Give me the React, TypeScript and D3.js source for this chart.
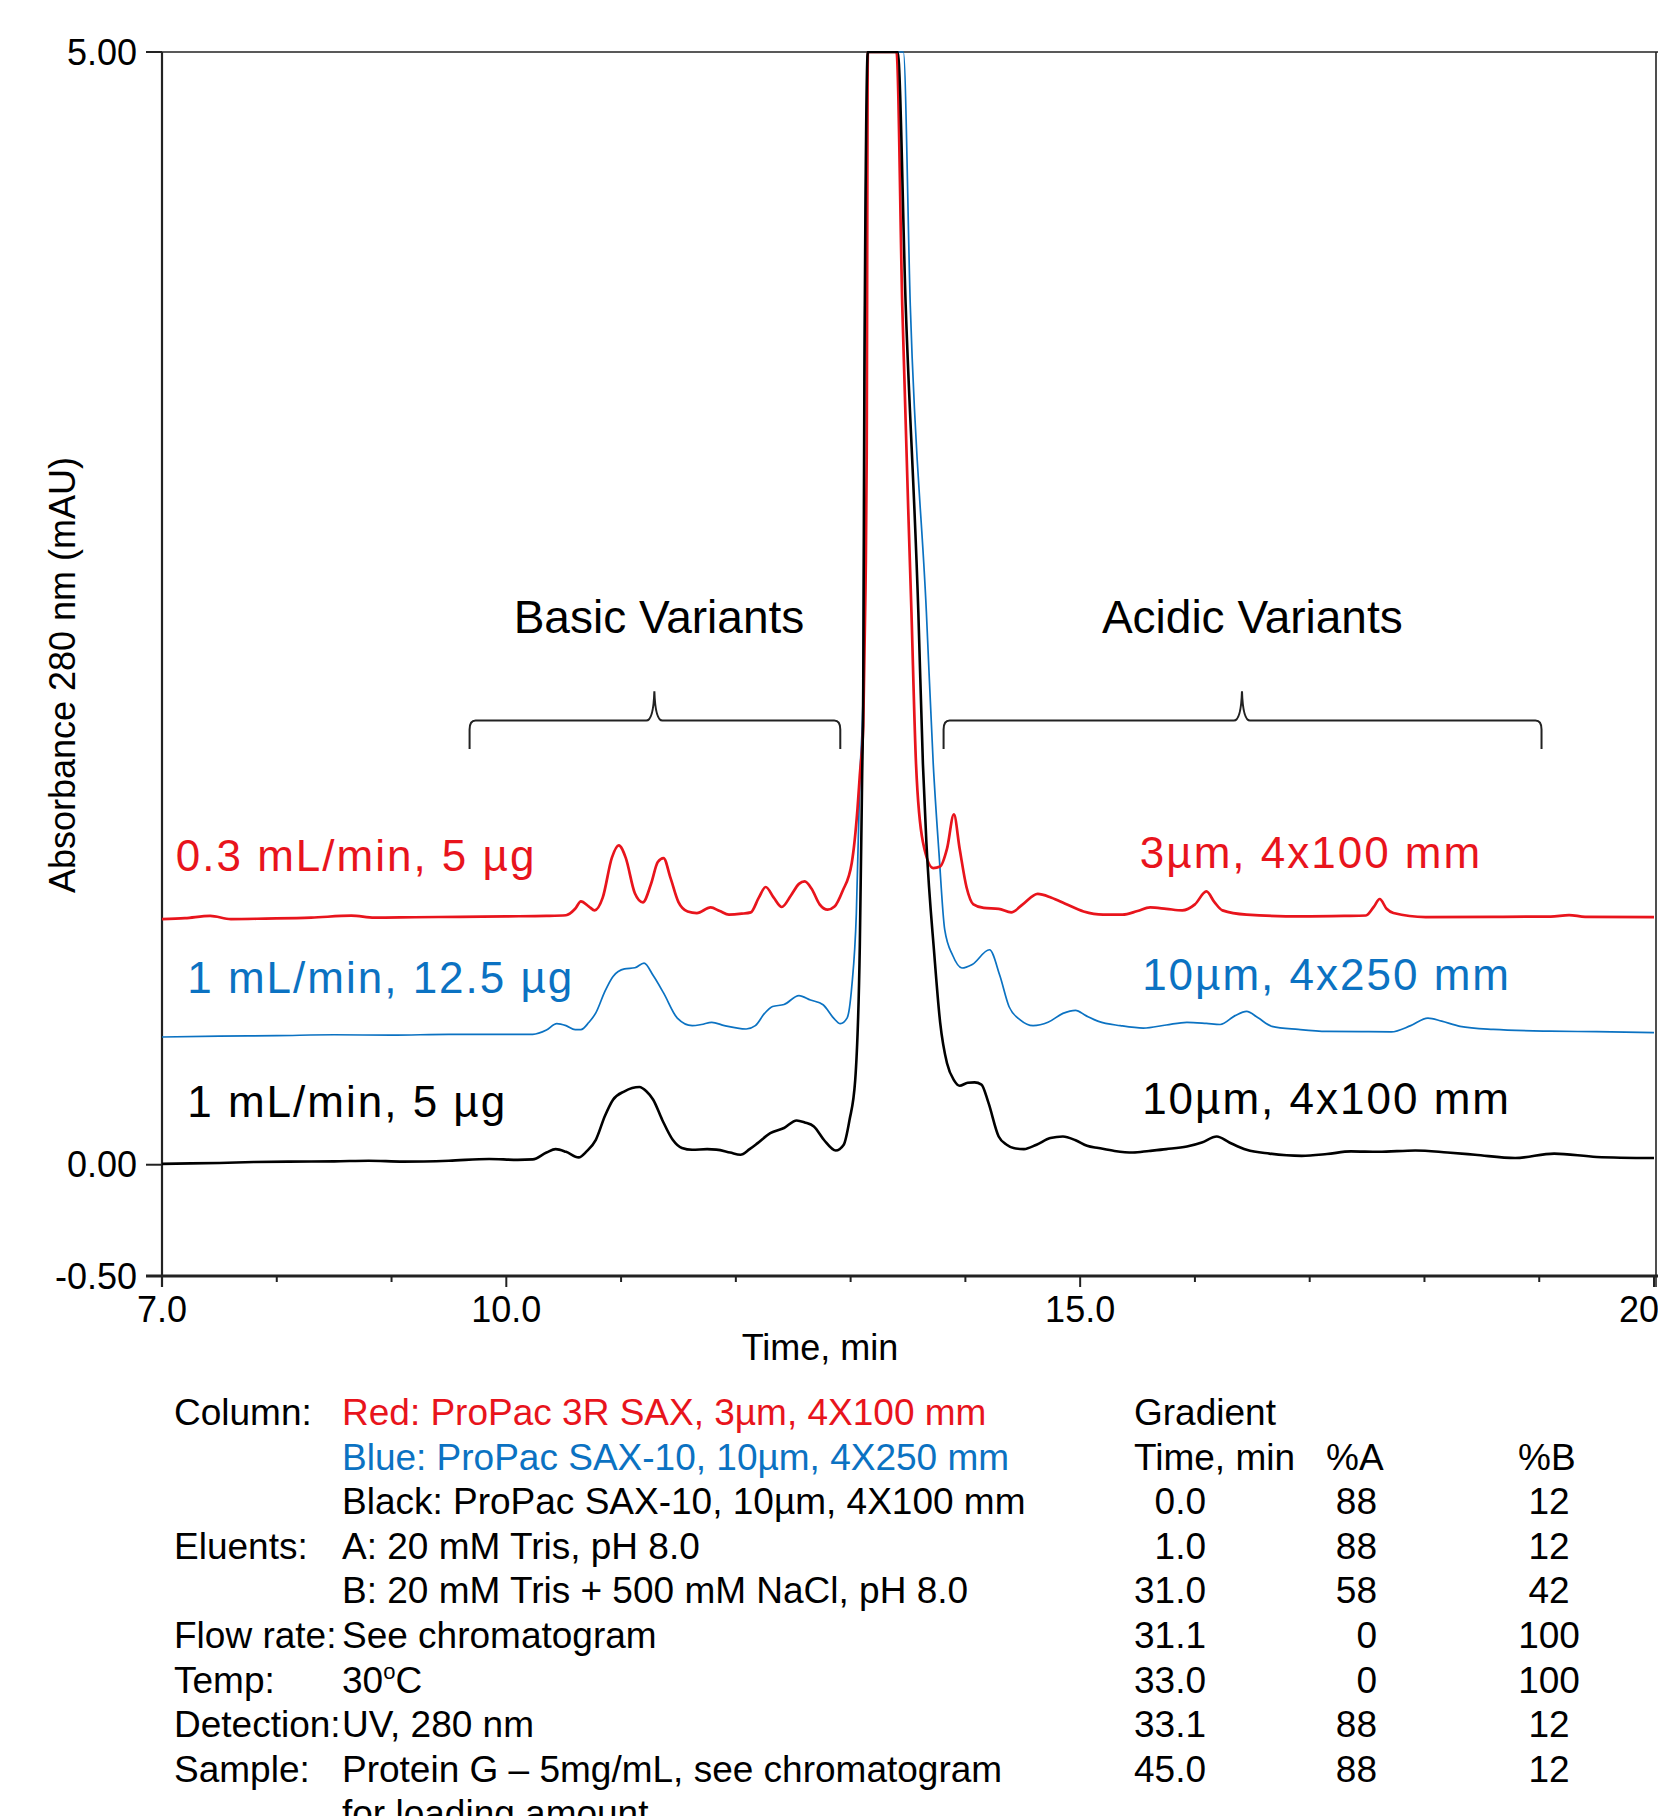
import React from "react";
import * as d3 from "d3";

// chromatogram traces, [time (min), absorbance (mAU)]
const RED_TRACE: [number, number][] = [
  [7.0, 1.104], [7.2, 1.108], [7.42, 1.118], [7.6, 1.104], [7.9, 1.106], [8.3, 1.11],
  [8.65, 1.119], [8.85, 1.11], [9.2, 1.112], [9.6, 1.114], [10.0, 1.116], [10.35, 1.118],
  [10.52, 1.121], [10.6, 1.15], [10.65, 1.183], [10.72, 1.16], [10.77, 1.143], [10.84, 1.2],
  [10.92, 1.38], [10.98, 1.435], [11.04, 1.38], [11.12, 1.22], [11.19, 1.179], [11.26, 1.26],
  [11.32, 1.36], [11.37, 1.378], [11.43, 1.29], [11.5, 1.18], [11.58, 1.138], [11.66, 1.131],
  [11.78, 1.156], [11.86, 1.14], [11.94, 1.124], [12.05, 1.128], [12.13, 1.134], [12.2, 1.2],
  [12.26, 1.248], [12.33, 1.2], [12.4, 1.158], [12.48, 1.21], [12.55, 1.262], [12.6, 1.273],
  [12.66, 1.24], [12.73, 1.17], [12.8, 1.146], [12.86, 1.16], [12.93, 1.23], [13.01, 1.356],
  [13.06, 1.6], [13.08, 1.75], [13.11, 1.97], [13.13, 2.6], [13.14, 3.17], [13.15, 5.0],
  [13.4, 5.0], [13.45, 3.86], [13.53, 2.485], [13.57, 1.8], [13.63, 1.45], [13.72, 1.333],
  [13.78, 1.34], [13.84, 1.42], [13.9, 1.574], [13.95, 1.42], [14.01, 1.247], [14.07, 1.17],
  [14.16, 1.154], [14.29, 1.15], [14.4, 1.134], [14.5, 1.17], [14.63, 1.217], [14.75, 1.2],
  [14.87, 1.173], [15.03, 1.138], [15.2, 1.124], [15.37, 1.124], [15.5, 1.14], [15.61, 1.156],
  [15.75, 1.15], [15.89, 1.143], [16.0, 1.17], [16.1, 1.228], [16.17, 1.18], [16.24, 1.143],
  [16.45, 1.124], [16.93, 1.116], [17.3, 1.118], [17.49, 1.12], [17.56, 1.16], [17.61, 1.194],
  [17.67, 1.15], [17.73, 1.131], [18.01, 1.113], [18.6, 1.114], [19.1, 1.115], [19.26, 1.122],
  [19.4, 1.114], [20.0, 1.113],
];

const BLUE_TRACE: [number, number][] = [
  [7.0, 0.574], [7.5, 0.578], [8.0, 0.58], [8.5, 0.584], [9.0, 0.582], [9.5, 0.586],
  [10.0, 0.586], [10.23, 0.586], [10.35, 0.605], [10.44, 0.634], [10.52, 0.625], [10.6, 0.607],
  [10.65, 0.607], [10.72, 0.64], [10.78, 0.682], [10.86, 0.78], [10.93, 0.846], [11.03, 0.88],
  [11.12, 0.885], [11.2, 0.906], [11.28, 0.85], [11.37, 0.772], [11.49, 0.659], [11.62, 0.625],
  [11.7, 0.63], [11.79, 0.64], [11.9, 0.625], [12.09, 0.61], [12.17, 0.625], [12.25, 0.68],
  [12.32, 0.711], [12.42, 0.72], [12.55, 0.76], [12.65, 0.74], [12.76, 0.719], [12.85, 0.66],
  [12.91, 0.634], [12.97, 0.66], [13.01, 0.8], [13.05, 1.13], [13.08, 1.73], [13.11, 2.14],
  [13.12, 3.52], [13.15, 5.0], [13.46, 5.0], [13.52, 3.86], [13.66, 2.485], [13.72, 1.8],
  [13.77, 1.4], [13.82, 1.056], [13.89, 0.94], [13.97, 0.884], [14.06, 0.9], [14.21, 0.966],
  [14.3, 0.85], [14.38, 0.711], [14.48, 0.65], [14.59, 0.625], [14.72, 0.64], [14.85, 0.68],
  [14.96, 0.694], [15.05, 0.67], [15.16, 0.644], [15.35, 0.625], [15.55, 0.614], [15.75, 0.628],
  [15.93, 0.64], [16.1, 0.635], [16.22, 0.63], [16.35, 0.67], [16.45, 0.689], [16.55, 0.66],
  [16.67, 0.622], [16.9, 0.608], [17.15, 0.599], [17.45, 0.598], [17.71, 0.597], [17.88, 0.625],
  [18.03, 0.659], [18.15, 0.645], [18.31, 0.622], [18.6, 0.608], [19.09, 0.6], [19.5, 0.598],
  [20.0, 0.594],
];

const BLACK_TRACE: [number, number][] = [
  [7.0, 0.004], [7.25, 0.006], [7.5, 0.008], [7.8, 0.012], [8.1, 0.014], [8.5, 0.015],
  [8.8, 0.018], [9.1, 0.014], [9.5, 0.018], [9.85, 0.026], [10.1, 0.022], [10.23, 0.024],
  [10.35, 0.055], [10.43, 0.07], [10.52, 0.058], [10.63, 0.033], [10.7, 0.06], [10.78, 0.112],
  [10.86, 0.22], [10.93, 0.292], [11.03, 0.33], [11.16, 0.349], [11.22, 0.33], [11.28, 0.292],
  [11.36, 0.2], [11.45, 0.112], [11.53, 0.075], [11.62, 0.067], [11.75, 0.07], [11.83, 0.068],
  [11.95, 0.055], [12.04, 0.045], [12.12, 0.07], [12.19, 0.097], [12.3, 0.142], [12.42, 0.165],
  [12.53, 0.199], [12.6, 0.19], [12.68, 0.172], [12.77, 0.11], [12.87, 0.064], [12.94, 0.09],
  [12.99, 0.2], [13.04, 0.38], [13.08, 0.98], [13.1, 1.73], [13.11, 2.14], [13.12, 3.52],
  [13.15, 5.0], [13.41, 5.0], [13.48, 3.86], [13.59, 2.485], [13.63, 1.8], [13.66, 1.45],
  [13.73, 0.94], [13.78, 0.64], [13.84, 0.456], [13.9, 0.38], [13.95, 0.355], [14.02, 0.368],
  [14.08, 0.37], [14.14, 0.36], [14.2, 0.28], [14.29, 0.127], [14.36, 0.09], [14.42, 0.075],
  [14.51, 0.07], [14.62, 0.09], [14.74, 0.12], [14.85, 0.127], [14.96, 0.11], [15.06, 0.085],
  [15.16, 0.075], [15.3, 0.062], [15.46, 0.055], [15.6, 0.062], [15.75, 0.07], [15.93, 0.082],
  [16.06, 0.1], [16.19, 0.127], [16.3, 0.1], [16.45, 0.067], [16.65, 0.05], [16.93, 0.04],
  [17.15, 0.048], [17.36, 0.06], [17.6, 0.058], [17.92, 0.064], [18.2, 0.055], [18.44, 0.045],
  [18.79, 0.03], [19.13, 0.05], [19.5, 0.035], [20.0, 0.03],
];

const X_LABEL_TICKS = [7, 10, 15, 20];
const X_MINOR_TICKS = [8, 9, 11, 12, 13, 14, 16, 17, 18, 19];
const Y_TICKS = [5, 0, -0.5];

// flow/load labels on the left, column labels on the right, [time, mAU] anchors
const LEFT_LABELS = ["0.3 mL/min, 5 µg", "1 mL/min, 12.5 µg", "1 mL/min, 5 µg"];
const LEFT_AT: [number, number][] = [[7.12, 1.32], [7.22, 0.773], [7.22, 0.216]];
const RIGHT_LABELS = ["3µm, 4x100 mm", "10µm, 4x250 mm", "10µm, 4x100 mm"];
const RIGHT_AT: [number, number][] = [[15.52, 1.335], [15.54, 0.787], [15.54, 0.229]];

const BRACE_NAMES = ["Basic Variants", "Acidic Variants"];
const BRACE_SPANS: [number, number, number][] = [[9.68, 11.29, 12.91], [13.81, 16.41, 19.02]];
const BRACE_NAME_AT: [number, number][] = [[11.33, 2.391], [16.5, 2.391]];

const COND_KEYS = ["Column:", "", "", "Eluents:", "", "Flow rate:", "Temp:", "Detection:", "Sample:", ""];
const COND_VALUES = [
  "Red: ProPac 3R SAX, 3µm, 4X100 mm",
  "Blue: ProPac SAX-10, 10µm, 4X250 mm",
  "Black: ProPac SAX-10, 10µm, 4X100 mm",
  "A: 20 mM Tris, pH 8.0",
  "B: 20 mM Tris + 500 mM NaCl, pH 8.0",
  "See chromatogram",
  "30°C",
  "UV, 280 nm",
  "Protein G – 5mg/mL, see chromatogram",
  "for loading amount",
];

const GRAD_TIME = ["0.0", "1.0", "31.0", "31.1", "33.0", "33.1", "45.0"];
const GRAD_A = ["88", "88", "58", "0", "0", "88", "88"];
const GRAD_B = ["12", "12", "42", "100", "100", "12", "12"];

const RED = "#e8141c";
const BLUE = "#0b72c2";
const BLACK = "#000";
const AXIS = "#222";
const FONT = "'Liberation Sans', Arial, Helvetica, sans-serif";

const W = 1658;
const H = 1816;

export default function App() {
  const x = d3.scaleLinear().domain([7, 20]).range([162, 1654]);
  const y = d3.scaleLinear().domain([-0.5, 5]).range([1276, 52]);
  const line = d3
    .line<[number, number]>()
    .x((d) => x(d[0]))
    .y((d) => y(d[1]))
    .curve(d3.curveMonotoneX);

  const traces = [
    { data: BLUE_TRACE, color: BLUE, width: 1.7 },
    { data: RED_TRACE, color: RED, width: 2.7 },
    { data: BLACK_TRACE, color: BLACK, width: 2.6 },
  ];
  const colors = [RED, BLUE, BLACK];

  const brace = (from: number, tip: number, to: number) => {
    const x0 = x(from), xm = x(tip), x1 = x(to);
    const yh = y(1.996), yb = y(1.868), yt = y(2.127);
    return `M${x0},${yb} L${x0},${yh + 9} Q${x0},${yh} ${x0 + 6},${yh} L${xm - 8},${yh} ` +
      `Q${xm - 1},${yh} ${xm},${yt} Q${xm + 1},${yh} ${xm + 8},${yh} L${x1 - 6},${yh} ` +
      `Q${x1},${yh} ${x1},${yh + 9} L${x1},${yb}`;
  };

  const rowY = (i: number) => 1425 + i * 44.6;

  return (
    <svg
      width={W}
      height={H}
      style={{ position: "absolute", left: 0, top: 0, background: "#fff" }}
      fontFamily={FONT}
    >
      <rect width={W} height={H} fill="#fff" />
      <defs>
        <clipPath id="plot">
          <rect x={x(7)} y={y(5) - 1} width={x(20) - x(7)} height={y(-0.5) - y(5) + 1} />
        </clipPath>
      </defs>

      {/* frame */}
      <line x1={146} x2={W} y1={y(5)} y2={y(5)} stroke={AXIS} strokeWidth={1.6} />
      <line x1={x(7)} x2={x(7)} y1={y(5)} y2={y(-0.5) + 11} stroke={AXIS} strokeWidth={2.2} />
      <line x1={x(20) + 2} x2={x(20) + 2} y1={y(5)} y2={y(-0.5) + 11} stroke={AXIS} strokeWidth={1.6} />
      <line x1={146} x2={W} y1={y(-0.5)} y2={y(-0.5)} stroke={AXIS} strokeWidth={2.8} />

      {Y_TICKS.map((t) => (
        <g key={t}>
          <line x1={146} x2={x(7)} y1={y(t)} y2={y(t)} stroke={AXIS} strokeWidth={2} />
          <text x={137} y={y(t)} dy="0.35em" fontSize={36} textAnchor="end" fill="#000">
            {t.toFixed(2)}
          </text>
        </g>
      ))}
      {X_MINOR_TICKS.map((t) => (
        <line key={t} x1={x(t)} x2={x(t)} y1={y(-0.5)} y2={y(-0.5) + 6} stroke={AXIS} strokeWidth={2} />
      ))}
      {X_LABEL_TICKS.map((t) => (
        <g key={t}>
          <line x1={x(t)} x2={x(t)} y1={y(-0.5)} y2={y(-0.5) + 11} stroke={AXIS} strokeWidth={2} />
          <text x={x(t)} y={y(-0.5) + 46} fontSize={36} textAnchor="middle" fill="#000">
            {t.toFixed(1)}
          </text>
        </g>
      ))}

      <text x={820} y={1360} fontSize={36} textAnchor="middle" fill="#000">Time, min</text>
      <text transform="translate(75,675) rotate(-90)" fontSize={36} textAnchor="middle" fill="#000">
        Absorbance 280 nm (mAU)
      </text>

      {/* traces */}
      <g clipPath="url(#plot)">
        {traces.map((tr, i) => (
          <path key={i} d={line(tr.data) ?? ""} fill="none" stroke={tr.color}
            strokeWidth={tr.width} strokeLinejoin="round" />
        ))}
      </g>

      {/* variant braces */}
      {BRACE_SPANS.map((b, i) => (
        <g key={i}>
          <path d={brace(b[0], b[1], b[2])} fill="none" stroke={AXIS} strokeWidth={2} />
          <text x={x(BRACE_NAME_AT[i][0])} y={y(BRACE_NAME_AT[i][1])} fontSize={46}
            textAnchor="middle" fill="#000">
            {BRACE_NAMES[i]}
          </text>
        </g>
      ))}

      {LEFT_LABELS.map((s, i) => (
        <text key={s} x={x(LEFT_AT[i][0])} y={y(LEFT_AT[i][1])} fontSize={44}
          letterSpacing={2} fill={colors[i]}>
          {s}
        </text>
      ))}
      {RIGHT_LABELS.map((s, i) => (
        <text key={s} x={x(RIGHT_AT[i][0])} y={y(RIGHT_AT[i][1])} fontSize={44}
          letterSpacing={2} fill={colors[i]}>
          {s}
        </text>
      ))}

      {/* conditions */}
      <g fontSize={37} fill="#000">
        {COND_KEYS.map((k, i) => (k ? <text key={"k" + i} x={174} y={rowY(i)}>{k}</text> : null))}
        {COND_VALUES.map((v, i) => {
          const fill = i === 0 ? RED : i === 1 ? BLUE : "#000";
          if (v === "30°C") {
            return (
              <text key={"v" + i} x={342} y={rowY(i)} fill={fill}>
                30<tspan fontSize={22} dy={-14}>o</tspan><tspan dy={14}>C</tspan>
              </text>
            );
          }
          return <text key={"v" + i} x={342} y={rowY(i)} fill={fill}>{v}</text>;
        })}

        <text x={1134} y={rowY(0)}>Gradient</text>
        <text x={1134} y={rowY(1)}>Time, min</text>
        <text x={1326} y={rowY(1)}>%A</text>
        <text x={1518} y={rowY(1)}>%B</text>
        {GRAD_TIME.map((t, i) => (
          <g key={"g" + i}>
            <text x={1206} y={rowY(i + 2)} textAnchor="end">{t}</text>
            <text x={1377} y={rowY(i + 2)} textAnchor="end">{GRAD_A[i]}</text>
            <text x={1549} y={rowY(i + 2)} textAnchor="middle">{GRAD_B[i]}</text>
          </g>
        ))}
      </g>
    </svg>
  );
}
